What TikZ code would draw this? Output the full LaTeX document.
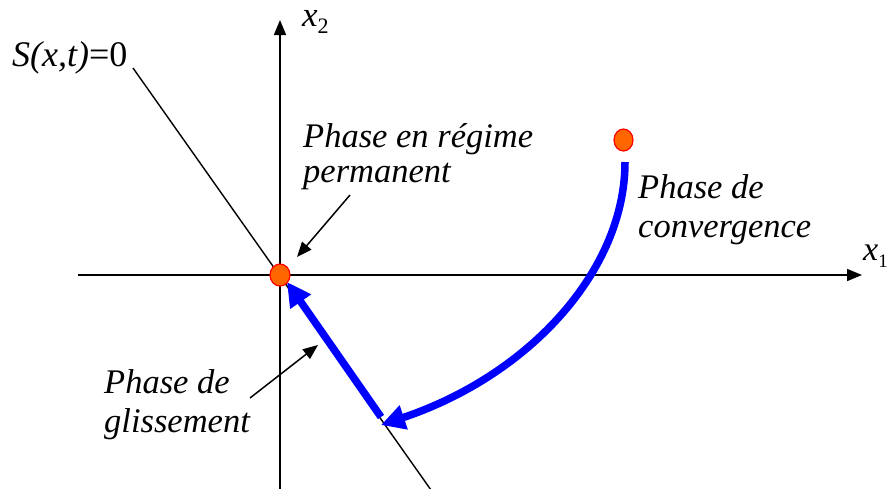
\documentclass[tikz,border=0pt]{standalone}
\usepackage{fontspec}
\setmainfont{Liberation Serif}
\usetikzlibrary{arrows.meta,shapes.geometric}
\definecolor{dotorange}{HTML}{FF6600}
\begin{document}
\begin{tikzpicture}[x=1pt,y=-1pt,
  axis/.style={line width=1.6pt,-{Triangle[length=15pt,width=12pt]}},
  ptr/.style={line width=1.5pt,-{Triangle[length=15pt,width=12pt]}},
  bluearrow/.style={draw=blue,line width=7.5pt,-{Triangle[length=24pt,width=24pt]}},
  lbl/.style={inner sep=0pt,align=left,anchor=base west},
  dot/.style={ellipse,draw=red,line width=1.2pt,fill=dotorange,minimum width=20pt,minimum height=22pt,inner sep=0pt}]
\useasboundingbox (0,0) rectangle (890,488);
% axes
\coordinate (x1s) at (78,275);
\coordinate (x1e) at (862,275);
\coordinate (x2s) at (280,490);
\coordinate (x2e) at (280,20);
\draw[axis] (x1s) -- (x1e);
\draw[axis] (x2s) -- (x2e);
% sliding surface
\coordinate (Ss) at (133,68);
\coordinate (Se) at (431,490);
\draw[line width=1.4pt] (Ss) -- (Se);
% blue trajectories
\coordinate (cs) at (625,162);
\coordinate (ce) at (381,425);
\draw[bluearrow] (cs) .. controls (625,270) and (530,375) .. (ce);
\coordinate (gs) at (381,417);
\coordinate (gt) at (287,282);
\draw[bluearrow] (gs) -- (gt);
% dots
\node[dot] (O) at (280,275) {};
\node[dot,minimum width=19pt] (P0) at (623.5,140) {};
% pointers
\coordinate (pmS) at (350,195);
\coordinate (pmT) at (297,257);
\draw[ptr] (pmS) -- (pmT);
\coordinate (glS) at (250,398);
\coordinate (glT) at (318,345);
\draw[ptr] (glS) -- (glT);
% labels
\node[lbl,font=\fontsize{36}{38}\selectfont\itshape] (Slbl) at (12,66) {S(x,t)\upshape=0};
\node[lbl,font=\fontsize{35}{38}\selectfont\itshape] (x2lbl) at (302,26) {x\raisebox{-7pt}{\fontsize{22}{24}\selectfont\upshape 2}};
\node[lbl,font=\fontsize{34}{38}\selectfont\itshape] (x1lbl) at (863,260) {x\raisebox{-7pt}{\fontsize{19}{22}\selectfont\upshape 1}};
\node[lbl,font=\fontsize{34.5}{35}\selectfont\itshape] (perm) at (303,182) {Phase en régime\\permanent};
\node[lbl,font=\fontsize{34.5}{39}\selectfont\itshape] (conv) at (638,237) {Phase de\\convergence};
\node[lbl,font=\fontsize{34.5}{39}\selectfont\itshape] (gliss) at (104,432) {Phase de\\glissement};
\end{tikzpicture}
\end{document}
